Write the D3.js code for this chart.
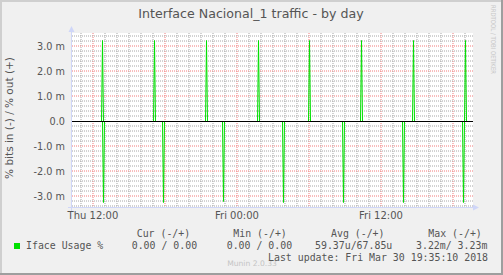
<!DOCTYPE html>
<html>
<head>
<meta charset="utf-8">
<script src="https://cdn.jsdelivr.net/npm/d3@7"></script>
<style>
  body { margin: 0; background: #f0f0f0; }
  svg { display: block; }
  text { font-family: "DejaVu Sans", sans-serif; fill: #555; }
  .mono { font-family: "DejaVu Sans Mono", monospace; font-size: 9.9px; white-space: pre; }
</style>
</head>
<body>
<div id="chart"></div>
<script>
// bits out (+), one sample every 5 min, zero between the spikes
const outTimes = [
  '2018-03-29 10:15', '2018-03-29 12:40', '2018-03-29 12:45', '2018-03-29 12:50',
  '2018-03-29 17:00', '2018-03-29 17:05', '2018-03-29 17:10',
  '2018-03-29 21:20', '2018-03-29 21:25', '2018-03-29 21:30',
  '2018-03-30 01:40', '2018-03-30 01:45', '2018-03-30 01:50',
  '2018-03-30 05:55', '2018-03-30 06:00', '2018-03-30 06:05',
  '2018-03-30 10:15', '2018-03-30 10:20', '2018-03-30 10:25',
  '2018-03-30 14:35', '2018-03-30 14:40', '2018-03-30 14:45',
  '2018-03-30 18:55', '2018-03-30 19:00', '2018-03-30 19:05', '2018-03-30 19:35'
];
const outValues = [
  0, 0, 3.23, 0,
  0, 3.22, 0,
  0, 3.23, 0,
  0, 3.22, 0,
  0, 3.23, 0,
  0, 3.22, 0,
  0, 3.23, 0,
  0, 3.23, 0, 0
];

// bits in (-), drawn below zero
const inTimes = [
  '2018-03-29 10:15', '2018-03-29 12:45', '2018-03-29 12:50', '2018-03-29 12:55',
  '2018-03-29 17:45', '2018-03-29 17:50', '2018-03-29 17:55',
  '2018-03-29 22:45', '2018-03-29 22:50', '2018-03-29 22:55',
  '2018-03-30 03:45', '2018-03-30 03:50', '2018-03-30 03:55',
  '2018-03-30 08:45', '2018-03-30 08:50', '2018-03-30 08:55',
  '2018-03-30 13:45', '2018-03-30 13:50', '2018-03-30 13:55',
  '2018-03-30 18:45', '2018-03-30 18:50', '2018-03-30 18:55', '2018-03-30 19:35'
];
const inValues = [
  0, 0, 3.22, 0,
  0, 3.22, 0,
  0, 3.21, 0,
  0, 3.22, 0,
  0, 3.22, 0,
  0, 3.22, 0,
  0, 3.22, 0, 0
];

const yTicks = [-3, -2, -1, 0, 1, 2, 3];
const yTickLabels = ['-3.0 m', '-2.0 m', '-1.0 m', '0.0', '1.0 m', '2.0 m', '3.0 m'];
const xTicks = ['2018-03-29 12:00', '2018-03-30 00:00', '2018-03-30 12:00'];
const xTickLabels = ['Thu 12:00', 'Fri 00:00', 'Fri 12:00'];

const title = 'Interface Nacional_1 traffic - by day';
const yTitle = '% bits in (-) / % out (+)';
const seriesName = 'Iface Usage %';
const legendHeads = ['Cur (-/+)', 'Min (-/+)', 'Avg (-/+)', 'Max (-/+)'];
const legendValues = ['0.00 / 0.00', '0.00 / 0.00', '59.37u/67.85u', '3.22m/ 3.23m'];
const lastUpdate = 'Last update: Fri Mar 30 19:35:10 2018';

const W = 503, H = 275;
const plot = { left: 72, right: 472, top: 33, bottom: 207 };
const green = '#00e000';

const parse = d3.timeParse('%Y-%m-%d %H:%M');
const tStart = new Date(2018, 2, 29, 10, 15, 10);
const tEnd = new Date(2018, 2, 30, 19, 35, 10);

const x = d3.scaleTime().domain([tStart, tEnd]).range([plot.left, plot.right]);
const y = d3.scaleLinear().domain([-3.44, 3.52]).range([plot.bottom, plot.top]);
const py = v => Math.round(y(v)) + 0.5;

const svg = d3.select('#chart').append('svg')
    .attr('width', W)
    .attr('height', H);

// background and bevel frame
svg.append('rect').attr('width', W).attr('height', H).style('fill', '#f0f0f0');
svg.append('rect').attr('x', 0).attr('y', 0).attr('width', W).attr('height', 2).style('fill', '#cfcfcf');
svg.append('rect').attr('x', 0).attr('y', 0).attr('width', 2).attr('height', H).style('fill', '#cfcfcf');
svg.append('rect').attr('x', 0).attr('y', H - 2).attr('width', W).attr('height', 2).style('fill', '#9e9e9e');
svg.append('rect').attr('x', W - 2).attr('y', 0).attr('width', 2).attr('height', H).style('fill', '#9e9e9e');

// canvas
svg.append('rect')
    .attr('x', plot.left)
    .attr('y', plot.top)
    .attr('width', plot.right - plot.left + 1)
    .attr('height', plot.bottom - plot.top)
    .style('fill', '#fff');

// grid lines sit on whole pixels, like rrdtool, so they spread over two columns
const grid = svg.append('g');
const minorColor = '#a6a6a6';
const majorColor = '#f27a7a';

// vertical grid: every hour, red every 6 hours
x.ticks(d3.timeHour.every(1)).forEach(t => {
    const px = Math.round(x(t));
    const major = t.getHours() % 6 === 0;
    grid.append('line')
        .attr('x1', px).attr('x2', px)
        .attr('y1', plot.top).attr('y2', plot.bottom)
        .style('stroke', major ? majorColor : minorColor)
        .style('stroke-width', 1)
        .style('stroke-dasharray', '1,1');
});

// horizontal grid: 0.2m minor, 1m major (zero is the black rule)
d3.range(-17, 18).forEach(i => {
    const v = i / 5;
    if (i === 0 || v < y.domain()[0] || v > y.domain()[1]) return;
    const major = i % 5 === 0;
    grid.append('line')
        .attr('x1', plot.left).attr('x2', plot.right + 1)
        .attr('y1', Math.round(y(v))).attr('y2', Math.round(y(v)))
        .style('stroke', major ? majorColor : minorColor)
        .style('stroke-width', 1)
        .style('stroke-dasharray', '1,1');
});

// axes with arrows
const axisColor = '#cfd6f8';
svg.append('line')
    .attr('x1', plot.left - 0.5).attr('x2', plot.left - 0.5)
    .attr('y1', plot.bottom + 4).attr('y2', plot.top - 4)
    .style('stroke', axisColor);
svg.append('path')
    .attr('d', `M${plot.left - 3.5},${plot.top - 1} L${plot.left - 0.5},${plot.top - 7} L${plot.left + 2.5},${plot.top - 1} Z`)
    .style('fill', axisColor);
svg.append('line')
    .attr('x1', plot.left - 4).attr('x2', plot.right + 4)
    .attr('y1', plot.bottom + 0.5).attr('y2', plot.bottom + 0.5)
    .style('stroke', axisColor);
svg.append('path')
    .attr('d', `M${plot.right + 1},${plot.bottom - 2.5} L${plot.right + 7},${plot.bottom + 0.5} L${plot.right + 1},${plot.bottom + 3.5} Z`)
    .style('fill', axisColor);

// data lines
const line = d3.line()
    .x(d => Math.round(x(d[0])) + 0.5)
    .y(d => py(d[1]));

const outData = outTimes.map((t, i) => [parse(t), outValues[i]]);
const inData = inTimes.map((t, i) => [parse(t), -inValues[i]]);

[outData, inData].forEach(data => {
    svg.append('path').datum(data)
        .attr('d', line)
        .style('fill', 'none')
        .style('stroke', green)
        .style('stroke-width', 1);
});

// zero line
svg.append('line')
    .attr('x1', plot.left).attr('x2', plot.right + 1)
    .attr('y1', py(0)).attr('y2', py(0))
    .attr('shape-rendering', 'crispEdges')
    .style('stroke', '#000')
    .style('stroke-width', 1);

// y tick labels
yTicks.forEach((v, i) => {
    svg.append('text')
        .attr('x', 65)
        .attr('y', py(v))
        .attr('dy', '0.36em')
        .attr('text-anchor', 'end')
        .style('font-size', '9.7px')
        .text(yTickLabels[i]);
});

// x tick labels
xTicks.forEach((t, i) => {
    svg.append('text')
        .attr('x', x(parse(t)))
        .attr('y', 219)
        .attr('text-anchor', 'middle')
        .style('font-size', '10px')
        .text(xTickLabels[i]);
});

// title
svg.append('text')
    .attr('x', 251)
    .attr('y', 18)
    .attr('text-anchor', 'middle')
    .style('font-size', '12.6px')
    .text(title);

// y axis title
svg.append('text')
    .attr('transform', 'translate(13,118) rotate(-90)')
    .attr('text-anchor', 'middle')
    .style('font-size', '10.5px')
    .text(yTitle);

// watermarks
svg.append('text')
    .attr('transform', 'translate(491,5) rotate(90)')
    .attr('textLength', 69)
    .attr('lengthAdjust', 'spacingAndGlyphs')
    .style('font-size', '6.5px')
    .style('fill', '#c8c8c8')
    .text('RRDTOOL / TOBI OETIKER');

svg.append('text')
    .attr('x', 252)
    .attr('y', 266)
    .attr('text-anchor', 'middle')
    .style('font-size', '7.6px')
    .style('fill', '#c4c4c4')
    .text('Munin 2.0.33');

// legend
const headX = [136.7, 233.3, 331, 428.3];
const valX = [131.7, 226.7, 315, 416];
legendHeads.forEach((s, i) => {
    svg.append('text').attr('class', 'mono')
        .attr('x', headX[i]).attr('y', 237)
        .text(s);
});
svg.append('rect')
    .attr('x', 14).attr('y', 243)
    .attr('width', 6).attr('height', 6)
    .style('fill', green);
svg.append('text').attr('class', 'mono')
    .attr('x', 26).attr('y', 249)
    .text(seriesName);
legendValues.forEach((s, i) => {
    svg.append('text').attr('class', 'mono')
        .attr('x', valX[i]).attr('y', 249)
        .text(s);
});
svg.append('text').attr('class', 'mono')
    .attr('x', 488).attr('y', 261)
    .attr('text-anchor', 'end')
    .text(lastUpdate);
</script>
</body>
</html>
